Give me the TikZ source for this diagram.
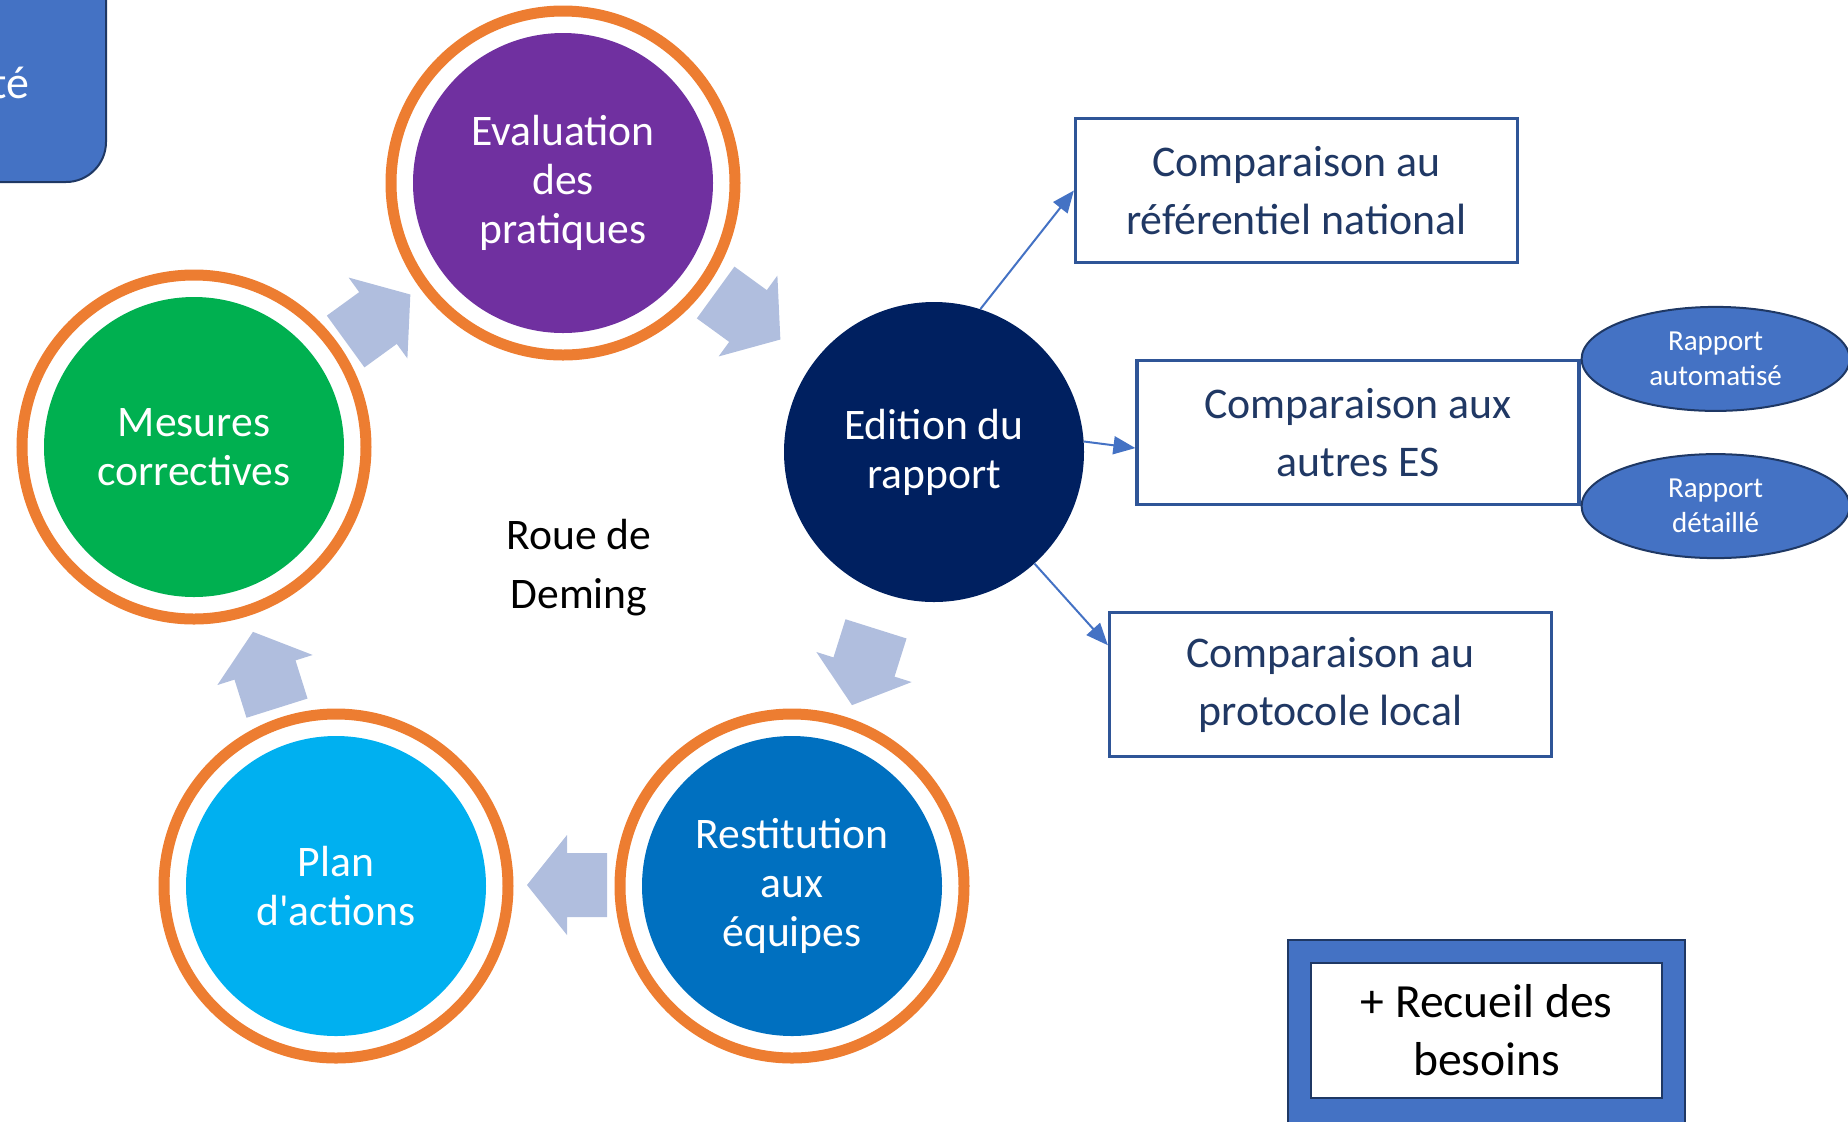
\documentclass[tikz,border=0pt]{standalone}
\usepackage{fontspec}
\setmainfont{Carlito}
\usetikzlibrary{arrows.meta,shapes.geometric}
\definecolor{evalpurple}{HTML}{7030A0}
\definecolor{mesgreen}{HTML}{00B050}
\definecolor{planblue}{HTML}{00B0F0}
\definecolor{restblue}{HTML}{0070C0}
\definecolor{edinavy}{HTML}{002060}
\definecolor{ringorange}{HTML}{ED7D31}
\definecolor{fatblue}{RGB}{176,190,222}
\definecolor{linkblue}{HTML}{4472C4}
\definecolor{boxline}{HTML}{2F5597}
\definecolor{boxtext}{HTML}{203864}
\definecolor{darkline}{HTML}{1F3864}
\tikzset{
	phase/.style={circle, minimum size=150pt, inner sep=0pt, text=white, align=center, font=\fontsize{21.8}{24.5}\selectfont},
	ring/.style={draw=ringorange, line width=5.5pt},
	cmpbox/.style={draw=boxline, line width=1.6pt, minimum width=221pt, minimum height=72pt, align=center, text=boxtext, font=\fontsize{21.9}{29}\selectfont},
	rapport/.style={ellipse, draw=darkline, line width=1pt, fill=linkblue, minimum width=134pt, minimum height=52pt, inner sep=0pt, text=white, align=center, font=\fontsize{14.5}{17.5}\selectfont, anchor=west},
	link/.style={draw=linkblue, line width=1pt, -{Triangle[length=11pt,width=9pt]}},
	pics/fatarrow/.style={code={
		\fill[fatblue] (-40,32) -- (0,32) -- (0,50) -- (40,0) -- (0,-50) -- (0,-32) -- (-40,-32) -- cycle;
	}}
}
\begin{document}
\begin{tikzpicture}[x=0.5pt, y=-0.5pt]
		\useasboundingbox (0,0) rectangle (1848,1121);
		\filldraw [fill=linkblue, draw=darkline, line width=1pt, rounded corners=20pt] (-80,-80) rectangle (106,182);
		\node [anchor=base east, text=white, font=\fontsize{23}{28}\selectfont] (theme) at (36,98) {té};

		\node [phase, fill=evalpurple] (eval) at (563,183) {Evaluation\\des\\pratiques};
		\node [phase, fill=mesgreen] (mes) at (194,447) {Mesures\\correctives};
		\node [phase, fill=edinavy] (edit) at (934,452) {Edition du\\rapport};
		\node [phase, fill=restblue] (rest) at (792,886) {Restitution\\aux\\équipes};
		\node [phase, fill=planblue] (plan) at (336,886) {Plan\\d\textquotesingle actions};
		\draw [ring] (eval) circle [radius=86pt];
		\draw [ring] (mes) circle [radius=86pt];
		\draw [ring] (rest) circle [radius=86pt];
		\draw [ring] (plan) circle [radius=86pt];

		\pic [rotate=36] at (378,318) {fatarrow};
		\pic [rotate=-36] at (748,316) {fatarrow};
		\pic [rotate=-107.5] at (864,667) {fatarrow};
		\pic [rotate=180] at (567,885) {fatarrow};
		\pic [rotate=107.5] at (265,670) {fatarrow};

		\node [align=center, font=\fontsize{21.8}{29.5}\selectfont] (deming) at (579,568) {Roue de\\Deming};

		\node [cmpbox] (nat) at (1296.5,190.5) {Comparaison au\\référentiel national};
		\node [cmpbox] (es) at (1358,432.5) {Comparaison aux\\autres ES};
		\node [cmpbox] (loc) at (1330.5,684.5) {Comparaison au\\protocole local};
		\node [rapport] (auto) at (es.north east) {Rapport\\automatisé};
		\node [rapport] (det) at (es.south east) {Rapport\\détaillé};

		\draw [link] (edit.72) -- (nat.west);
		\draw [link] (edit.4) -- (es.184);
		\draw [link] (edit.-48) -- (loc.170);

		\filldraw [fill=linkblue, draw=darkline, line width=1pt] (1288,940) rectangle (1685,1140);
		\node [draw=darkline, line width=1pt, fill=white, minimum width=175.5pt, minimum height=67.5pt, align=center, font=\fontsize{23.8}{29}\selectfont] (besoins) at (1486.5,1030.5) {+ Recueil des\\besoins};
	\end{tikzpicture}
\end{document}
